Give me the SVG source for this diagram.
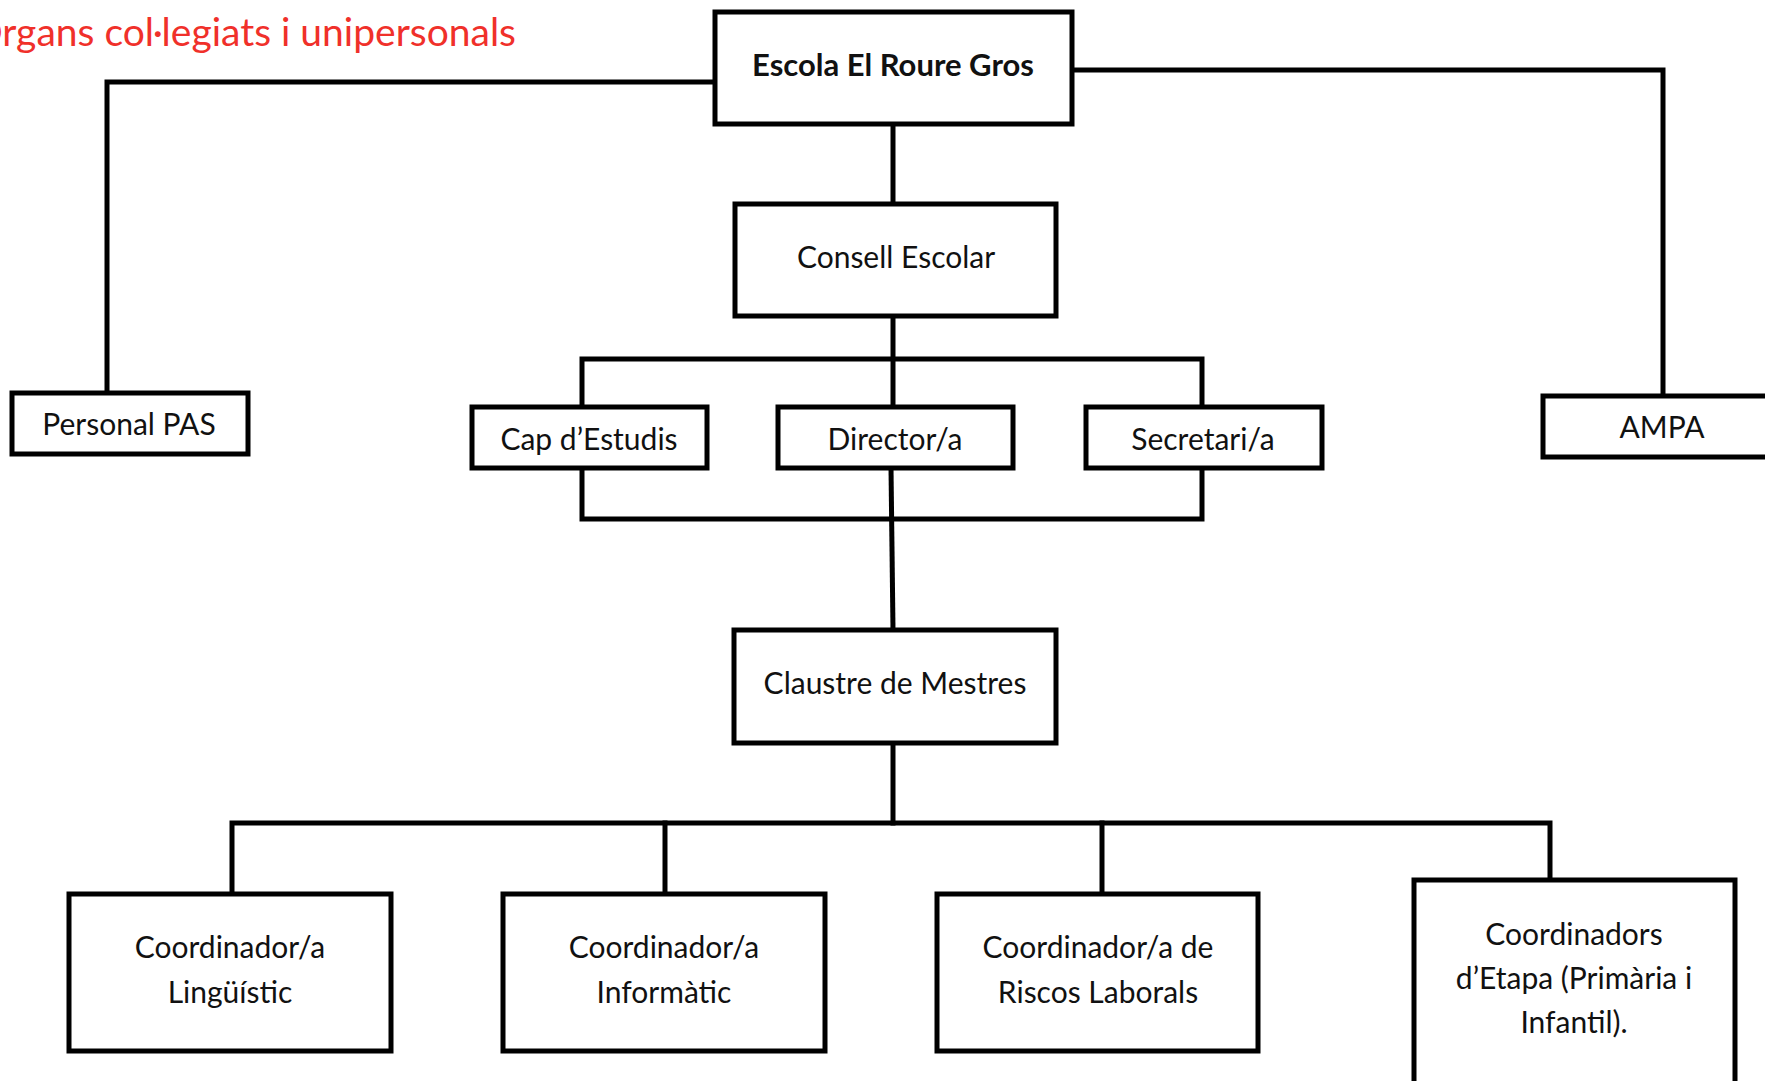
<svg xmlns="http://www.w3.org/2000/svg" width="1765" height="1081" viewBox="0 0 1765 1081">
<style>
.box{fill:#fff;stroke:#000;stroke-width:5}
.ln{fill:none;stroke:#000;stroke-width:5;stroke-linejoin:miter;stroke-linecap:square}
text{font-family:Lato,"Open Sans","Liberation Sans",sans-serif;font-size:30px;fill:#111;text-anchor:middle}
.b{font-weight:bold;font-size:31px}
.title{fill:#F0302A;font-size:39px;text-anchor:end}
</style>
<rect width="1765" height="1081" fill="#fff"/>
<text class="title" x="516" y="46">Òrgans col·legiats i unipersonals</text>
<g id="connectors">
<path class="ln" d="M715,82 H107 V393"/>
<path class="ln" d="M1072,70 H1663 V396"/>
<path class="ln" d="M893,124 V204"/>
<path class="ln" d="M893,316 V407"/>
<path class="ln" d="M582,407 V359 H1202 V407"/>
<path class="ln" d="M582,468 V519 H1202 V468"/>
<path class="ln" d="M891,468 L893,630"/>
<path class="ln" d="M893,743 V823"/>
<path class="ln" d="M232,894 V823 H1550 V880"/>
<path class="ln" d="M665,823 V894"/>
<path class="ln" d="M1102,823 V894"/>
</g>
<g id="escola"><rect class="box" x="715" y="12" width="357" height="112"/><text class="b" x="893" y="76">Escola El Roure Gros</text></g>
<g id="consell"><rect class="box" x="735" y="204" width="321" height="112"/><text x="896" y="268">Consell Escolar</text></g>
<g id="personal"><rect class="box" x="12" y="393" width="236" height="61"/><text x="129" y="435">Personal PAS</text></g>
<g id="ampa"><rect class="box" x="1543" y="396" width="240" height="61"/><text x="1662" y="438">AMPA</text></g>
<g id="cap"><rect class="box" x="472" y="407" width="235" height="61"/><text x="589" y="450">Cap d’Estudis</text></g>
<g id="director"><rect class="box" x="778" y="407" width="235" height="61"/><text x="895" y="450">Director/a</text></g>
<g id="secretari"><rect class="box" x="1086" y="407" width="236" height="61"/><text x="1203" y="450">Secretari/a</text></g>
<g id="claustre"><rect class="box" x="734" y="630" width="322" height="113"/><text x="895" y="694">Claustre de Mestres</text></g>
<g id="ling"><rect class="box" x="69" y="894" width="322" height="157"/><text x="230" y="958">Coordinador/a</text><text x="230" y="1003">Lingüístic</text></g>
<g id="info"><rect class="box" x="503" y="894" width="322" height="157"/><text x="664" y="958">Coordinador/a</text><text x="664" y="1003">Informàtic</text></g>
<g id="riscos"><rect class="box" x="937" y="894" width="321" height="157"/><text x="1098" y="958">Coordinador/a de</text><text x="1098" y="1003">Riscos Laborals</text></g>
<g id="etapa"><rect class="box" x="1414" y="880" width="321" height="220"/><text x="1574" y="945">Coordinadors</text><text x="1574" y="989">d’Etapa (Primària i</text><text x="1574" y="1033">Infantil).</text></g>
</svg>
